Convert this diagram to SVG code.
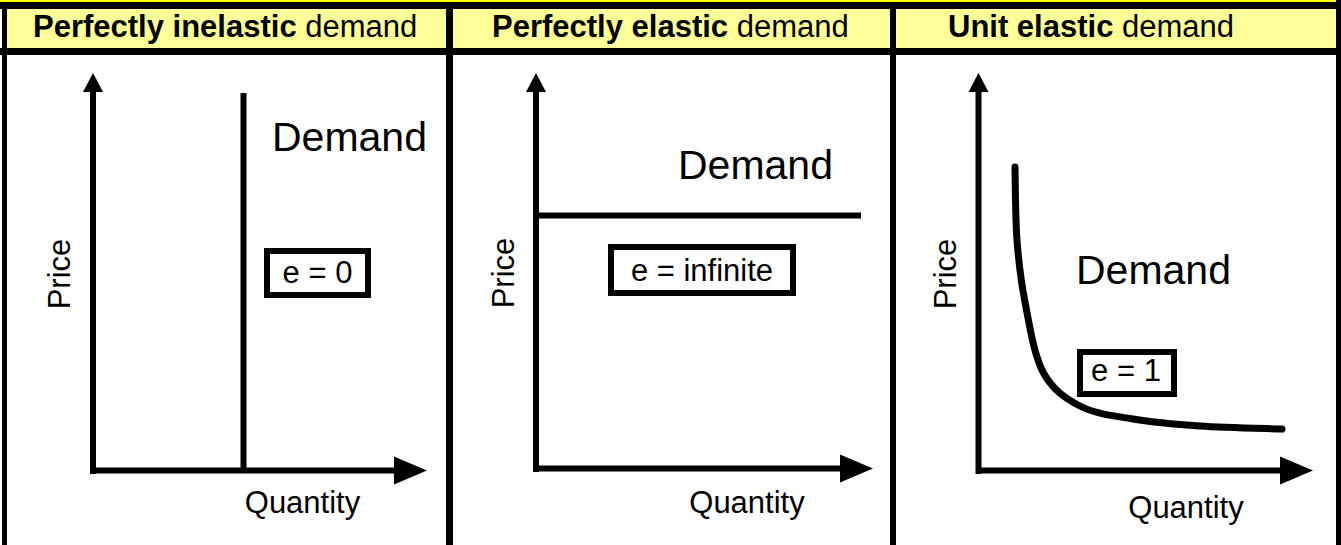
<svg xmlns="http://www.w3.org/2000/svg" width="1341" height="545" viewBox="0 0 1341 545">
  <style>
    text { font-family: "Liberation Sans", Arial, sans-serif; fill: #000; }
    .hdr { font-size: 31px; }
    .b { font-weight: bold; }
    .lbl { font-size: 31px; }
    .dem { font-size: 41px; }
    .axis { stroke: #000; stroke-width: 6; fill: none; stroke-linecap: butt; }
    .curve { stroke: #000; stroke-width: 7; fill: none; stroke-linejoin: round; stroke-linecap: round; }
    .ebox { fill: #fff; stroke: #000; stroke-width: 6; }
    .rule { fill: #000; }
  </style>
  <defs>
    <marker id="arrY" markerUnits="userSpaceOnUse" markerWidth="20" markerHeight="22" viewBox="0 -11 20 22" refX="0" refY="0" orient="auto">
      <path d="M0,-10 L19,0 L0,10 z" fill="#000"/>
    </marker>
    <marker id="arrX" markerUnits="userSpaceOnUse" markerWidth="34" markerHeight="30" viewBox="0 -15 34 30" refX="0" refY="0" orient="auto">
      <path d="M0,-14 L33,0 L0,14 z" fill="#000"/>
    </marker>
  </defs>

  <rect x="0" y="0" width="1341" height="545" fill="#fff"/>

  <g id="frame">
    <rect x="0" y="0" width="1336" height="2" fill="#FFFF00"/>
    <rect x="2" y="9" width="1334" height="39" fill="#FFFF99"/>
    <rect class="rule" x="0" y="2" width="1341" height="7"/>
    <rect class="rule" x="0" y="48" width="1341" height="7"/>
    <rect class="rule" x="2" y="2" width="5" height="543"/>
    <rect class="rule" x="446" y="2" width="7" height="543"/>
    <rect class="rule" x="890" y="2" width="6" height="543"/>
    <rect class="rule" x="1336" y="0" width="5" height="545"/>
  </g>

  <g id="headers">
    <text class="hdr" x="33" y="37"><tspan class="b">Perfectly inelastic</tspan> demand</text>
    <text class="hdr" x="492" y="37"><tspan class="b">Perfectly elastic</tspan> demand</text>
    <text class="hdr" x="948" y="37"><tspan class="b">Unit elastic</tspan> demand</text>
  </g>

  <g id="connectors">
    <!-- panel 1 axes and demand -->
    <line class="axis" x1="93" y1="474" x2="93" y2="92" marker-end="url(#arrY)"/>
    <line class="axis" x1="90" y1="470.5" x2="394" y2="470.5" stroke-width="7" marker-end="url(#arrX)"/>
    <line class="axis" x1="243.5" y1="93" x2="243.5" y2="470" stroke-width="7"/>
    <!-- panel 2 -->
    <line class="axis" x1="536" y1="472" x2="536" y2="92" marker-end="url(#arrY)"/>
    <line class="axis" x1="533" y1="468.5" x2="840" y2="468.5" stroke-width="7" marker-end="url(#arrX)"/>
    <line class="axis" x1="536" y1="215.5" x2="861" y2="215.5" stroke-width="7"/>
    <!-- panel 3 -->
    <line class="axis" x1="978.5" y1="474" x2="978.5" y2="92" marker-end="url(#arrY)"/>
    <line class="axis" x1="976" y1="470.5" x2="1280" y2="470.5" stroke-width="7" marker-end="url(#arrX)"/>
    <path class="curve" d="M1015,167 C1015.3,179.2 1015.3,217.5 1017,240 C1018.7,262.5 1020.7,280 1025,302 C1029.3,324 1033.8,354.7 1043,372 C1052.2,389.3 1065,398.2 1080,406 C1095,413.8 1113,415.7 1133,419 C1153,422.3 1175.2,424.3 1200,426 C1224.8,427.7 1268.3,428.5 1282,429"/>
  </g>

  <g id="panel-inelastic">
    <text class="dem" x="272" y="151">Demand</text>
    <rect class="ebox" x="267" y="251" width="101" height="44"/>
    <text class="lbl" x="317.5" y="283" text-anchor="middle">e = 0</text>
    <text class="lbl" transform="translate(70,274) rotate(-90)" text-anchor="middle">Price</text>
    <text class="lbl" x="302.5" y="513" text-anchor="middle">Quantity</text>
  </g>

  <g id="panel-elastic">
    <text class="dem" x="678" y="179">Demand</text>
    <rect class="ebox" x="611" y="247" width="182" height="46"/>
    <text class="lbl" x="702" y="281" text-anchor="middle">e = infinite</text>
    <text class="lbl" transform="translate(514,273) rotate(-90)" text-anchor="middle">Price</text>
    <text class="lbl" x="747" y="513" text-anchor="middle">Quantity</text>
  </g>

  <g id="panel-unit">
    <text class="dem" x="1076" y="284">Demand</text>
    <rect class="ebox" x="1080" y="352" width="94" height="42"/>
    <text class="lbl" x="1126" y="381" text-anchor="middle">e = 1</text>
    <text class="lbl" transform="translate(956,274) rotate(-90)" text-anchor="middle">Price</text>
    <text class="lbl" x="1186" y="518" text-anchor="middle">Quantity</text>
  </g>
</svg>
